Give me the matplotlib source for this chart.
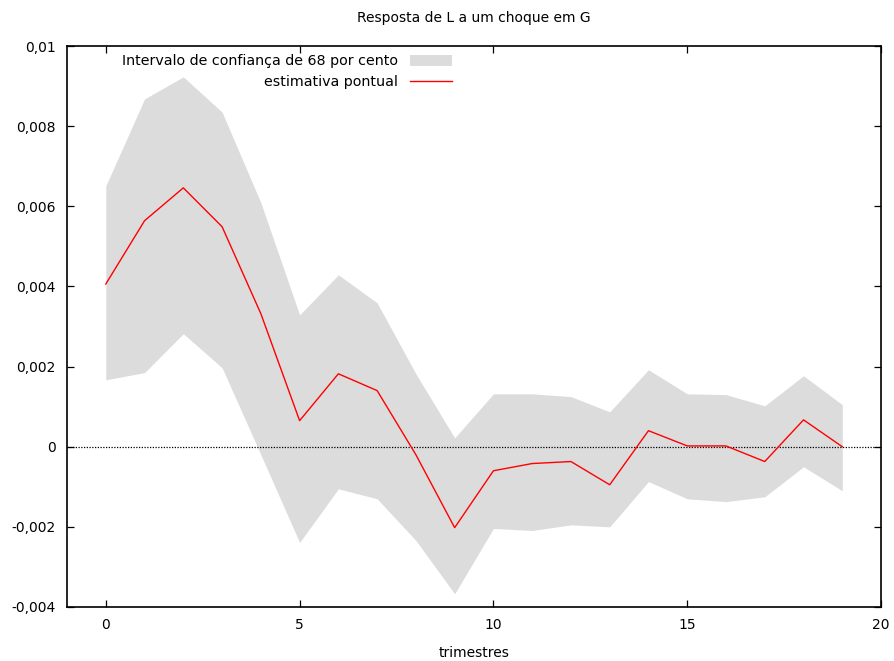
import matplotlib
matplotlib.use("Agg")
import matplotlib.pyplot as plt
from matplotlib.ticker import FuncFormatter, MultipleLocator

plt.rcParams['font.family'] = ['DejaVu Sans']
plt.rcParams['axes.unicode_minus'] = False

# periods (quarters)
trimestres = list(range(20))

# point estimate
estimativa = [0.00406, 0.00564, 0.00646, 0.00549, 0.00332, 0.00065, 0.00182, 0.00140,
              -0.00020, -0.00202, -0.00060, -0.00042, -0.00037, -0.00095, 0.00040,
              0.00002, 0.00002, -0.00037, 0.00067, 0.0]

# 68% confidence band
superior = [0.00651, 0.00868, 0.00923, 0.00835, 0.00609, 0.00329, 0.00429, 0.00359,
            0.00182, 0.00022, 0.00132, 0.00132, 0.00125, 0.00087, 0.00192,
            0.00132, 0.00130, 0.00102, 0.00177, 0.00105]
inferior = [0.00167, 0.00185, 0.00282, 0.00197, -0.00020, -0.00239, -0.00105, -0.00130,
            -0.00234, -0.00367, -0.00204, -0.00209, -0.00195, -0.00200, -0.00087,
            -0.00130, -0.00137, -0.00125, -0.00050, -0.00110]

fig = plt.figure(figsize=(8.94, 6.61), dpi=100)
ax = fig.add_axes([0.075, 0.0817, 0.9105, 0.8487])

ax.fill_between(trimestres, inferior, superior, color='#dcdcdc', linewidth=0,
                label='Intervalo de confiança de 68 por cento')
ax.plot(trimestres, estimativa, color='red', lw=1.0, label='estimativa pontual')
ax.axhline(0, color='black', lw=0.9, ls=(0, (1, 1.2)), zorder=1)

ax.set_xlim(-1, 20)
ax.set_ylim(-0.004, 0.01)
ax.xaxis.set_major_locator(MultipleLocator(5))
ax.yaxis.set_major_locator(MultipleLocator(0.002))


def virgula(v, pos):
    s = '%g' % round(v, 6)
    return s.replace('.', ',')


ax.yaxis.set_major_formatter(FuncFormatter(virgula))
ax.tick_params(direction='in', length=5, width=0.9, top=True, right=True,
               labelsize=10, pad=8)
for s in ax.spines.values():
    s.set_linewidth(1.2)

ax.set_xlabel('trimestres', fontsize=10, labelpad=10)
fig.text(0.53, 0.973, 'Resposta de L a um choque em G', ha='center', va='center', fontsize=10)

ax.legend(loc='upper right', bbox_to_anchor=(0.477, 0.99), frameon=False,
          markerfirst=False, prop={'size': 10.3}, handlelength=3.0, handleheight=0.8,
          labelspacing=0.45, borderaxespad=0, borderpad=0.2)

fig.savefig('out.png', dpi=100)
